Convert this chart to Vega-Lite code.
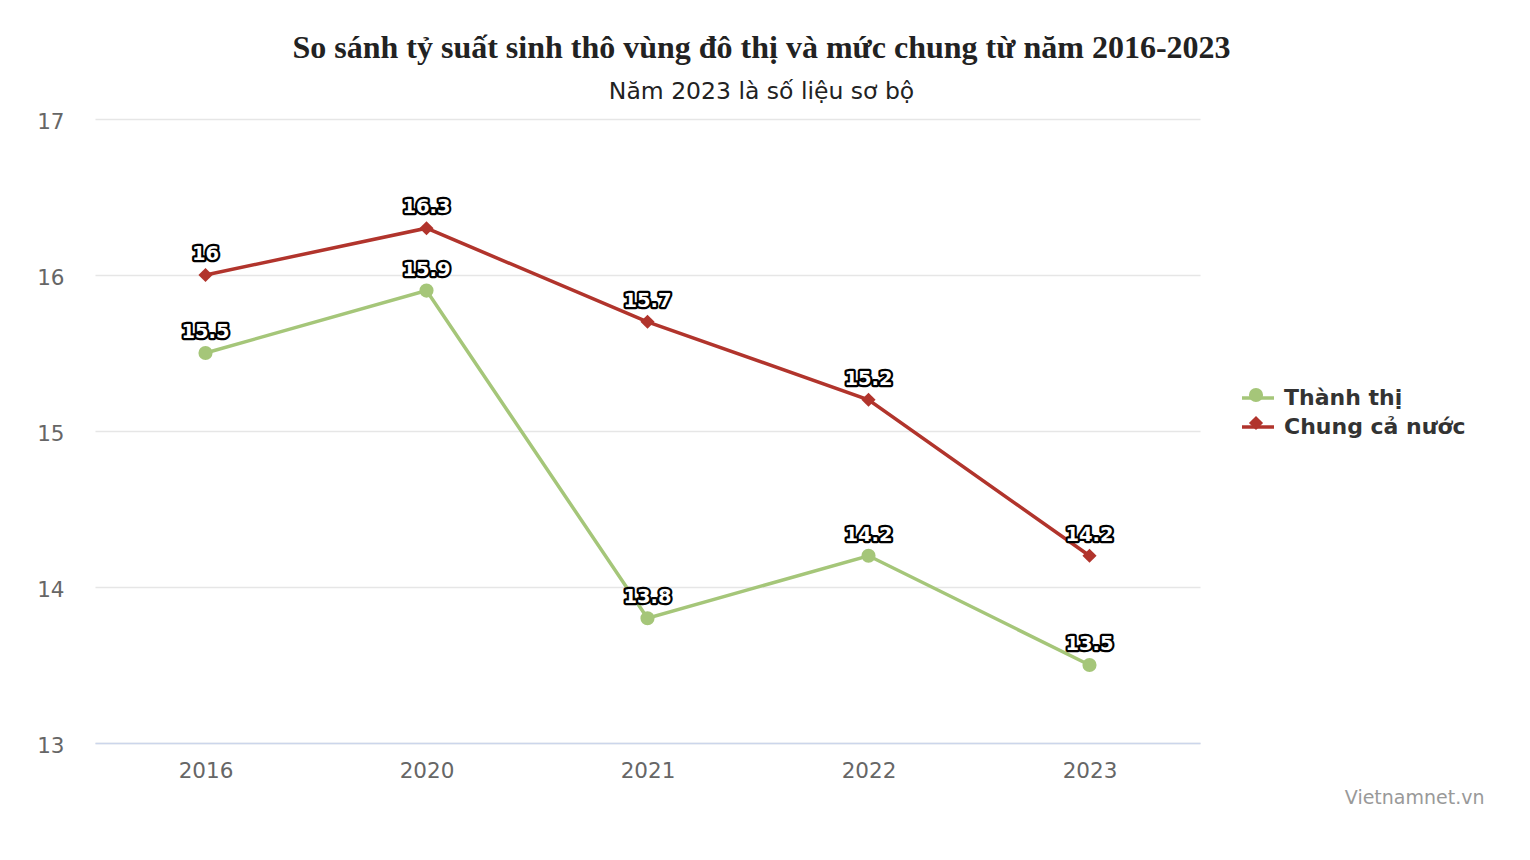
{
  "$schema": "https://vega.github.io/schema/vega-lite/v6.json",
  "width": 1105,
  "height": 624,
  "autosize": {"type": "none"},
  "padding": {"left": 95, "top": 119, "right": 330, "bottom": 117},
  "background": "white",
  "config": {"view": {"stroke": null}},
  "title": {
    "text": "So sánh tỷ suất sinh thô vùng đô thị và mức chung từ năm 2016-2023",
    "subtitle": "Năm 2023 là số liệu sơ bộ",
    "font": "Liberation Serif",
    "fontSize": 32,
    "fontWeight": "bold",
    "color": "#222222",
    "subtitleFont": "DejaVu Sans",
    "subtitleFontSize": 23.5,
    "subtitleColor": "#222222",
    "subtitlePadding": 15,
    "anchor": "middle",
    "dx": 114,
    "offset": 7
  },
  "data": {
    "values": [
      {"year": "2016", "series": "Thành thị", "value": 15.5},
      {"year": "2020", "series": "Thành thị", "value": 15.9},
      {"year": "2021", "series": "Thành thị", "value": 13.8},
      {"year": "2022", "series": "Thành thị", "value": 14.2},
      {"year": "2023", "series": "Thành thị", "value": 13.5},
      {"year": "2016", "series": "Chung cả nước", "value": 16},
      {"year": "2020", "series": "Chung cả nước", "value": 16.3},
      {"year": "2021", "series": "Chung cả nước", "value": 15.7},
      {"year": "2022", "series": "Chung cả nước", "value": 15.2},
      {"year": "2023", "series": "Chung cả nước", "value": 14.2}
    ]
  },
  "encoding": {
    "x": {
      "field": "year",
      "type": "ordinal",
      "scale": {"type": "point", "padding": 0.5},
      "axis": {
        "labelAngle": 0,
        "labelFont": "DejaVu Sans",
        "labelFontSize": 21.5,
        "labelColor": "#666666",
        "labelPadding": 17,
        "ticks": false,
        "domainColor": "#ccd6eb",
        "domainWidth": 1.5,
        "grid": false,
        "title": "Vietnamnet.vn",
        "titleX": 1389,
        "titleY": 54,
        "titleAlign": "right",
        "titleBaseline": "middle",
        "titleFont": "DejaVu Sans",
        "titleFontSize": 19,
        "titleFontWeight": "normal",
        "titleColor": "#999999"
      }
    },
    "y": {
      "field": "value",
      "type": "quantitative",
      "scale": {"domain": [13, 17], "nice": false, "zero": false},
      "axis": {
        "values": [13, 14, 15, 16, 17],
        "title": null,
        "domain": false,
        "ticks": false,
        "grid": true,
        "gridColor": "#e6e6e6",
        "gridWidth": 1.5,
        "labelFont": "DejaVu Sans",
        "labelFontSize": 21.5,
        "labelColor": "#666666",
        "labelPadding": 31,
        "labelOffset": 3
      }
    }
  },
  "layer": [
    {
      "mark": {"type": "line", "strokeWidth": 3.5},
      "encoding": {
        "color": {
          "field": "series",
          "type": "nominal",
          "sort": ["Thành thị", "Chung cả nước"],
          "scale": {"range": ["#a5c679", "#b1342c"]},
          "legend": {
            "orient": "none",
            "legendX": 1145,
            "legendY": 261,
            "title": null,
            "symbolType": "stroke",
            "symbolSize": 1024,
            "symbolStrokeWidth": 3.5,
            "labelFont": "DejaVu Sans",
            "labelFontSize": 22,
            "labelFontWeight": "bold",
            "labelColor": "#333333",
            "labelOffset": 8,
            "labelLimit": 400,
            "rowPadding": -2,
            "padding": 0
          }
        }
      }
    },
    {
      "mark": {"type": "point", "filled": true, "opacity": 1, "size": 200},
      "encoding": {
        "fill": {
          "field": "series",
          "type": "nominal",
          "scale": {"domain": ["Thành thị", "Chung cả nước"], "range": ["#a5c679", "#b1342c"]},
          "legend": {
            "orient": "none",
            "legendX": 1150,
            "legendY": 265,
            "title": null,
            "symbolSize": 200,
            "labelFont": "DejaVu Sans",
            "labelFontSize": 22,
            "labelFontWeight": "bold",
            "labelColor": "transparent",
            "labelOffset": 8,
            "labelLimit": 400,
            "rowPadding": 6,
            "padding": 0
          }
        },
        "shape": {
          "field": "series",
          "type": "nominal",
          "scale": {"domain": ["Thành thị", "Chung cả nước"], "range": ["circle", "diamond"]},
          "legend": {
            "orient": "none",
            "legendX": 1150,
            "legendY": 265,
            "title": null,
            "symbolSize": 200,
            "labelFont": "DejaVu Sans",
            "labelFontSize": 22,
            "labelFontWeight": "bold",
            "labelColor": "transparent",
            "labelOffset": 8,
            "labelLimit": 400,
            "rowPadding": 6,
            "padding": 0
          }
        }
      }
    },
    {
      "mark": {
        "type": "text",
        "dy": -21,
        "font": "DejaVu Sans",
        "fontSize": 19.5,
        "fontWeight": "bold",
        "fill": "#000000",
        "stroke": "#000000",
        "strokeWidth": 4.5,
        "strokeJoin": "round",
        "baseline": "middle"
      },
      "encoding": {"text": {"field": "value", "type": "quantitative"}}
    },
    {
      "mark": {
        "type": "text",
        "dy": -21,
        "font": "DejaVu Sans",
        "fontSize": 19.5,
        "fontWeight": "bold",
        "fill": "#ffffff",
        "baseline": "middle"
      },
      "encoding": {"text": {"field": "value", "type": "quantitative"}}
    }
  ]
}
